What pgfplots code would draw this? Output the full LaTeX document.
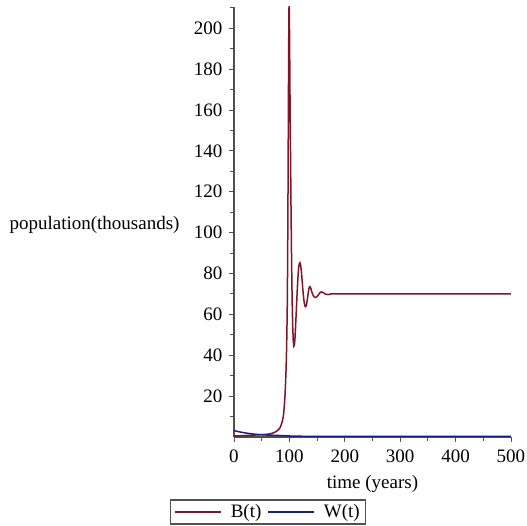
\documentclass[border=0pt]{standalone}
\usepackage{fontspec}
\setmainfont{Liberation Serif}
\usepackage{pgfplots}
\pgfplotsset{compat=1.18}
\definecolor{bred}{RGB}{130,20,40}
\definecolor{wblue}{RGB}{25,30,130}
\definecolor{axgray}{RGB}{80,80,80}
\begin{document}%
\fontsize{19}{22}\selectfont%
\begin{tikzpicture}
\begin{axis}[
  scale only axis,
  width=277pt, height=430pt,
  xmin=0, xmax=500, ymin=0, ymax=210.4,
  axis x line*=bottom, axis y line*=left,
  axis line style={axgray, line width=1.2pt},
  xtick={0,100,...,500}, minor xtick={50,150,...,450},
  ytick={20,40,...,200}, minor ytick={10,30,...,210},
  tick align=outside,
  major tick length=5pt, minor tick length=4pt,
  every tick/.style={axgray, line width=0.9pt},
  /pgf/number format/assume math mode=true,
  ticklabel style={font=\fontsize{19}{22}\selectfont},
  xticklabel style={yshift=-1pt},
  xlabel={time (years)},
  xlabel style={at={(axis description cs:0.5,0)}, anchor=north, yshift=-32pt, font=\fontsize{19}{22}\selectfont},
  ylabel={population(thousands)},
  ylabel style={rotate=-90, at={(axis cs:0,104)}, anchor=east, xshift=-48pt, font=\fontsize{19}{22}\selectfont},
  legend columns=2,
  legend style={at={(34pt,-75pt)}, anchor=center, draw=axgray, line width=1.2pt,
    font=\fontsize{19}{22}\selectfont, inner xsep=4pt, inner ysep=2pt,
    /tikz/every odd column/.append style={column sep=7pt},
    /tikz/every even column/.append style={column sep=4pt}},
  legend cell align=left,
  legend image code/.code={\draw[#1, line width=1.5pt] (0pt,0pt) -- (46pt,0pt);},
  clip=true,
]
\addplot[color=bred, line width=1.5pt] coordinates {
(0,0.5) (10,0.6) (20,0.7) (30,0.85) (40,1.0) (50,1.15) (60,1.35) (65,1.6) (70,1.9) (75,2.5) (80,3.5) (83,4.5) (85,5.8) (87,7.5) (89,10) (90,12.5) (91,16) (92,20) (93,26) (94,33) (95,44) (96,60) (96.5,75) (97,95) (97.5,120) (98,150) (98.5,180) (99,203) (99.3,210.4) (99.6,212) (100,205) (100.5,190) (101,170) (102,140) (103,110) (104,85) (105,66) (106,54) (107,47) (108,44.5) (109,45) (110,48) (111,53) (112,59) (113,65) (114,71) (115,76) (116,80.5) (117,83.5) (118,85) (119,85.3) (120,84.5) (121,82.5) (122,80) (123,76.5) (124,73) (125,70) (126,67.3) (127,65.4) (128,64.2) (129,63.8) (130,64) (131,65) (132,66.5) (133,68.5) (134,70.5) (135,72.2) (136,73.3) (137,73.6) (138,73.2) (139,72.4) (140,71.4) (142,69.8) (144,68.8) (146,68.3) (148,68.3) (150,68.7) (152,69.4) (154,70.2) (156,70.8) (158,71) (160,70.8) (163,70.3) (166,69.8) (170,69.7) (175,70.0) (180,70.1) (190,70) (250,70) (300,70) (400,70) (500,70)
};
\addlegendentry{B(t)}
\addplot[color=wblue, line width=1.5pt] coordinates {
(0,3.2) (5,2.8) (10,2.5) (20,2.0) (30,1.6) (40,1.3) (50,1.1) (60,0.95) (70,0.85) (80,0.75) (90,0.65) (100,0.5) (110,0.4) (130,0.35) (200,0.3) (300,0.3) (400,0.3) (500,0.3)
};
\addlegendentry{W(t)}
\end{axis}
\pgfresetboundingbox
\path (-234pt,-88pt) rectangle (293pt,437pt);
\end{tikzpicture}%
\end{document}
